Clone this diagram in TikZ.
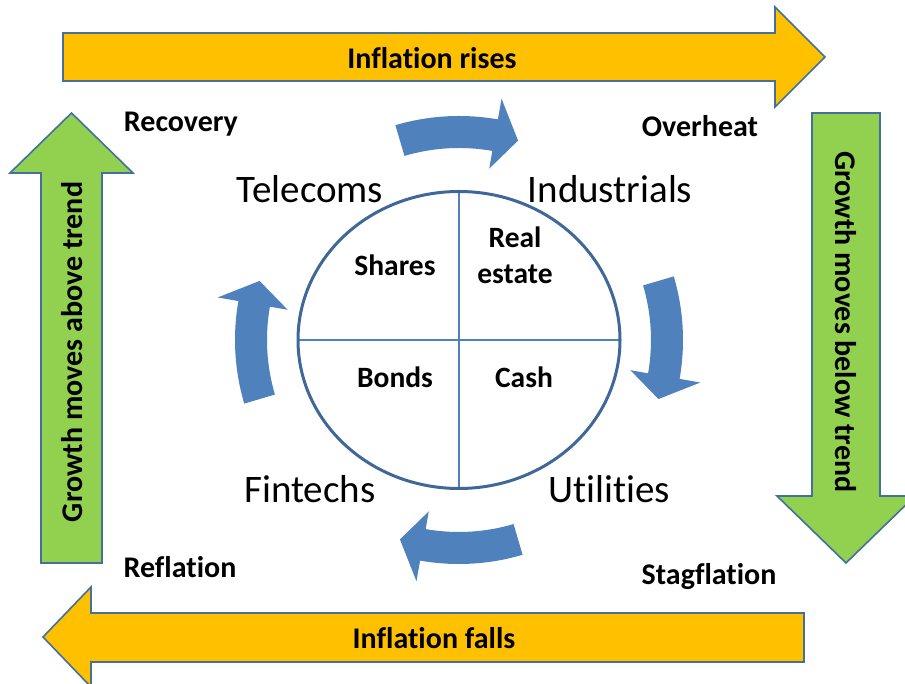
\documentclass[tikz,border=0pt]{standalone}
\usepackage{fontspec}
\setmainfont{Carlito}[Ligatures={NoCommon}]
\usetikzlibrary{calc}
\definecolor{arrowblue}{HTML}{4F81BD}
\definecolor{edgeblue}{HTML}{41719C}
\definecolor{ringblue}{HTML}{3F6797}
\definecolor{gold}{HTML}{FFC000}
\definecolor{leaf}{HTML}{92D050}
\tikzset{
  bigarrow/.style={draw=edgeblue, line width=1.6pt, line join=miter},
  yellowarrow/.style={bigarrow, fill=gold},
  greenarrow/.style={bigarrow, fill=leaf},
  cycarrow/.style={fill=arrowblue, draw=none},
  boldlabel/.style={font=\fontsize{30}{32}\selectfont\bfseries, inner sep=0pt},
  sectorlabel/.style={font=\fontsize{39}{41}\selectfont, inner sep=0pt},
  quadlabel/.style={font=\fontsize{29.5}{36}\selectfont\bfseries, inner sep=0pt, align=center}
}
\begin{document}
\begin{tikzpicture}[x=1pt,y=1pt]
\useasboundingbox (0,0) rectangle (905,684);
% big arrows
\draw[yellowarrow] (63,603) -- (775,603) -- (775,577) -- (825,627) -- (775,677) -- (775,651) -- (63,651) -- cycle;
\draw[yellowarrow] (804,22) -- (91,22) -- (91,-3) -- (43,47) -- (91,97) -- (91,71) -- (804,71) -- cycle;
\draw[greenarrow] (41,121) -- (41,511) -- (10,511) -- (71.5,571) -- (133,511) -- (102,511) -- (102,121) -- cycle;
\draw[greenarrow] (812,571) -- (812,188) -- (777,188) -- (846,121) -- (915,188) -- (880,188) -- (880,571) -- cycle;
% arrow texts
\node[boldlabel] (rise) at (432,626) {Inflation rises};
\node[boldlabel] (fall) at (434,46) {Inflation falls};
\node[boldlabel, rotate=90] (above) at (72,332) {Growth moves above trend};
\node[boldlabel, rotate=-90] (below) at (846,362) {Growth moves below trend};
% phase labels
\node[boldlabel, anchor=base] (recovery) at (181,552) {Recovery};
\node[boldlabel, anchor=base] (overheat) at (700,547) {Overheat};
\node[boldlabel, anchor=base] (reflation) at (180,106) {Reflation};
\node[boldlabel, anchor=base] (stagflation) at (709,99) {Stagflation};
% sector labels
\node[sectorlabel, anchor=base] (telecoms) at (310,481) {Telecoms};
\node[sectorlabel, anchor=base] (industrials) at (610,481) {Industrials};
\node[sectorlabel, anchor=base] (fintechs) at (310,181) {Fintechs};
\node[sectorlabel, anchor=base] (utilities) at (609,181) {Utilities};
% circle
\coordinate (c) at (459,344);
\draw[arrowblue, line width=2.5pt] (298,344) -- (620,344);
\draw[arrowblue, line width=2.5pt] (459,195.5) -- (459,492.5);
\draw[ringblue, line width=3pt] (c) ellipse [x radius=161, y radius=148.5];
\node[quadlabel] (shares) at (395,419) {Shares};
\node[quadlabel] (realestate) at (515,429) {Real\\estate};
\node[quadlabel] (bonds) at (395,307) {Bonds};
\node[quadlabel] (cash) at (524,307) {Cash};
% cycle arrows
\foreach \t in {106.5,16.5,-73.5,-163.5}{
  \fill[cycarrow] ($(c)+(\t:224)$) arc[start angle=\t, end angle=\t-26.5, radius=224]
    -- ($(c)+(\t-26.5:245)$) -- ($(c)+(\t-33:208)$) -- ($(c)+(\t-26.5:174)$)
    -- ($(c)+(\t-26.5:192)$) arc[start angle=\t-26.5, end angle=\t, radius=192] -- cycle;
}
\end{tikzpicture}
\end{document}
